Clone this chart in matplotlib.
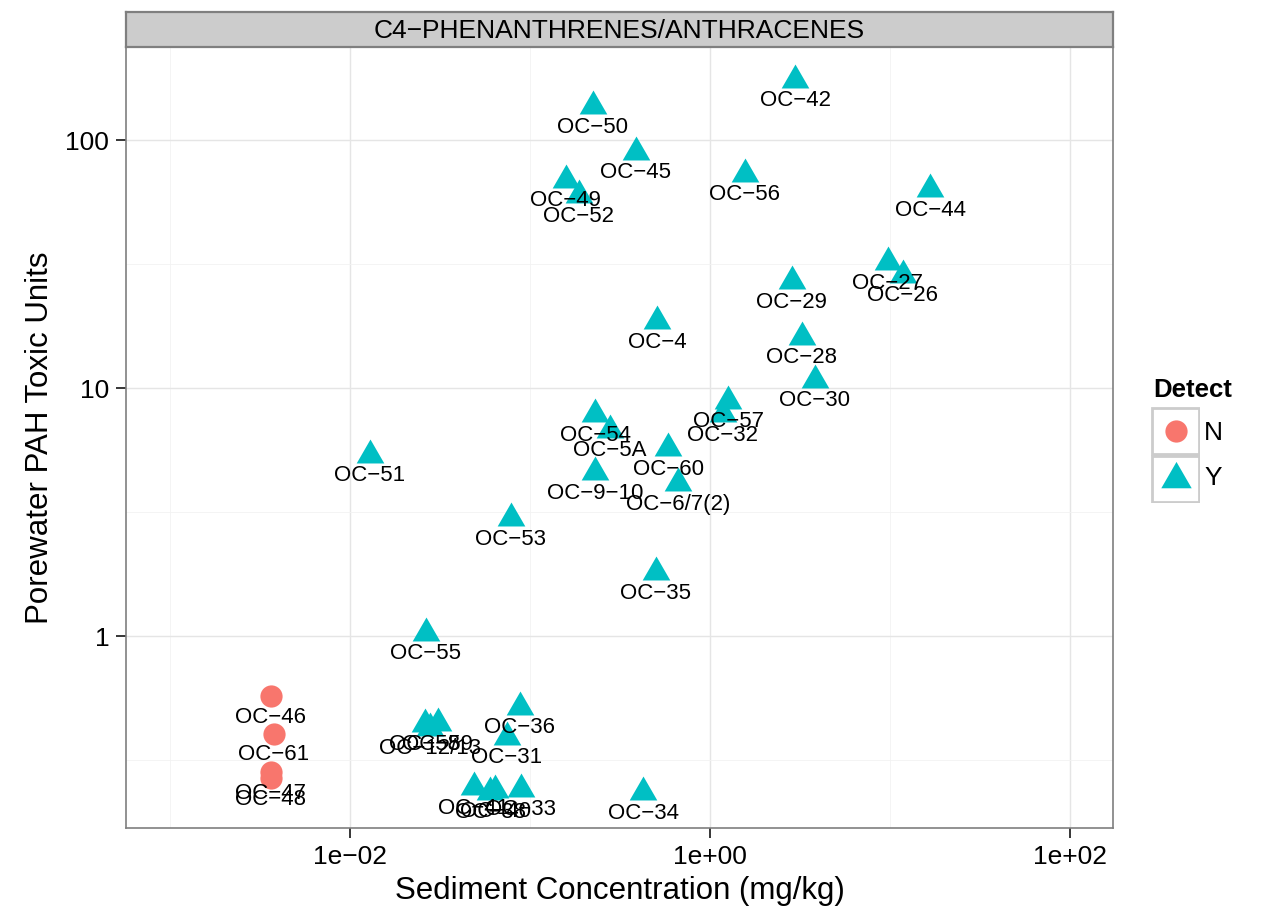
import matplotlib
matplotlib.use("Agg")
import matplotlib.pyplot as plt
from matplotlib.patches import Rectangle
import numpy as np

plt.rcParams['font.family'] = ['Liberation Sans', 'DejaVu Sans']

# station data
stations = ["OC-42", "OC-50", "OC-45", "OC-56", "OC-49", "OC-52", "OC-44",
            "OC-27", "OC-26", "OC-29", "OC-4", "OC-28", "OC-30", "OC-57",
            "OC-32", "OC-54", "OC-5A", "OC-60", "OC-9-10", "OC-6/7(2)",
            "OC-51", "OC-53", "OC-35", "OC-55", "OC-36", "OC-31", "OC-58",
            "OC-59", "OC-12/13", "OC-41", "OC-40", "OC-38", "OC-33", "OC-34",
            "OC-46", "OC-61", "OC-47", "OC-48"]
sediment = [2.97, 0.224, 0.388, 1.56, 0.158, 0.187, 16.7,
            9.75, 11.8, 2.85, 0.508, 3.24, 3.83, 1.26,
            1.18, 0.23, 0.278, 0.585, 0.23, 0.664,
            0.0129, 0.0783, 0.501, 0.0264, 0.088, 0.0745, 0.0261,
            0.0308, 0.0278, 0.0489, 0.064, 0.060, 0.089, 0.425,
            0.00364, 0.00378, 0.00364, 0.00364]
toxic_units = [174.8, 137, 89.5, 73, 69, 60, 63.4,
               32.2, 28.6, 27, 18.6, 16.1, 10.8, 8.87,
               7.85, 7.85, 6.78, 5.73, 4.58, 4.14,
               5.37, 2.99, 1.81, 1.03, 0.518, 0.392, 0.442,
               0.446, 0.426, 0.246, 0.239, 0.236, 0.242, 0.235,
               0.573, 0.403, 0.283, 0.267]
detect = ["Y"] * 34 + ["N"] * 4

colors = {"N": "#F8766D", "Y": "#00BFC4"}
markers = {"N": "o", "Y": (3, 0, 0)}
sizes = {"N": 16, "Y": 23}

fig = plt.figure(figsize=(12.63, 9.14), dpi=100)
W, H = 1263, 914
ax = fig.add_axes([126 / W, (914 - 828) / H, (1113 - 126) / W, (828 - 47) / H])
ax.set_xscale("log")
ax.set_yscale("log")
ax.set_xlim(10 ** -3.244, 10 ** 2.239)
ax.set_ylim(10 ** -0.774, 10 ** 2.375)

# grid like theme_bw
for v in [1e-2, 1e0, 1e2]:
    ax.axvline(v, color="#E5E5E5", lw=1.0, zorder=0)
for v in [1e-3, 1e-1, 1e1]:
    ax.axvline(v, color="#F2F2F2", lw=0.6, zorder=0)
for v in [1, 10, 100]:
    ax.axhline(v, color="#E5E5E5", lw=1.0, zorder=0)
for v in [10 ** -0.5, 10 ** 0.5, 10 ** 1.5]:
    ax.axhline(v, color="#F2F2F2", lw=0.6, zorder=0)

for d in ["N", "Y"]:
    xs = [x for x, k in zip(sediment, detect) if k == d]
    ys = [y for y, k in zip(toxic_units, detect) if k == d]
    ax.plot(xs, ys, linestyle="none", marker=markers[d], ms=sizes[d],
            color=colors[d], markeredgewidth=0, zorder=3)

for name, x, y in zip(stations, sediment, toxic_units):
    ax.annotate(name.replace("-", "\u2212"), (x, y), xytext=(0, -21),
                textcoords="offset pixels", ha="center", va="center",
                fontsize=16, color="black", zorder=4)

ax.set_xticks([1e-2, 1e0, 1e2])
ax.set_xticklabels(["1e\u221202", "1e+00", "1e+02"])
ax.set_yticks([1, 10, 100])
ax.set_yticklabels(["1", "10", "100"])
ax.minorticks_off()
ax.tick_params(labelsize=19, color="black", length=7, width=1.1,
               labelcolor="black", pad=5)
for s in ax.spines.values():
    s.set_color("#7F7F7F")
    s.set_linewidth(1.2)
fig.text(620 / W, (914 - 891) / H, "Sediment Concentration (mg/kg)",
         fontsize=22.5, ha="center", va="center")
fig.text(40 / W, (914 - 438) / H, "Porewater PAH Toxic Units",
         fontsize=22.5, ha="center", va="center", rotation=90)

# facet strip
strip = fig.add_axes([126 / W, (914 - 47) / H, (1113 - 126) / W, 35 / H])
strip.set_xticks([])
strip.set_yticks([])
strip.set_facecolor("#CCCCCC")
for s in strip.spines.values():
    s.set_color("#7F7F7F")
    s.set_linewidth(1.6)
strip.text(0.5, 0.47, "C4\u2212PHENANTHRENES/ANTHRACENES", ha="center",
           va="center", fontsize=19, transform=strip.transAxes)

# legend
fig.text(1153 / W, (914 - 390) / H, "Detect", fontsize=18.5, fontweight="bold",
         ha="left", va="center")
lg = fig.add_axes([1151 / W, (914 - 503) / H, 49 / W, 96 / H])
lg.set_xlim(0, 1)
lg.set_ylim(0, 2)
lg.axis("off")
for i, d in enumerate(["Y", "N"]):
    lg.add_patch(Rectangle((0.03, i + 0.015), 0.94, 0.97, facecolor="white",
                           edgecolor="#CCCCCC", lw=2))
    lg.plot([0.5], [i + 0.5], marker=markers[d], ms=sizes[d] * (1.0 if d == "N" else 1.1),
            color=colors[d], markeredgewidth=0, linestyle="none")
    fig.text(1204 / W, (914 - (478 if d == "Y" else 433)) / H, d,
             fontsize=19, ha="left", va="center")

fig.savefig("out.png", dpi=100)
